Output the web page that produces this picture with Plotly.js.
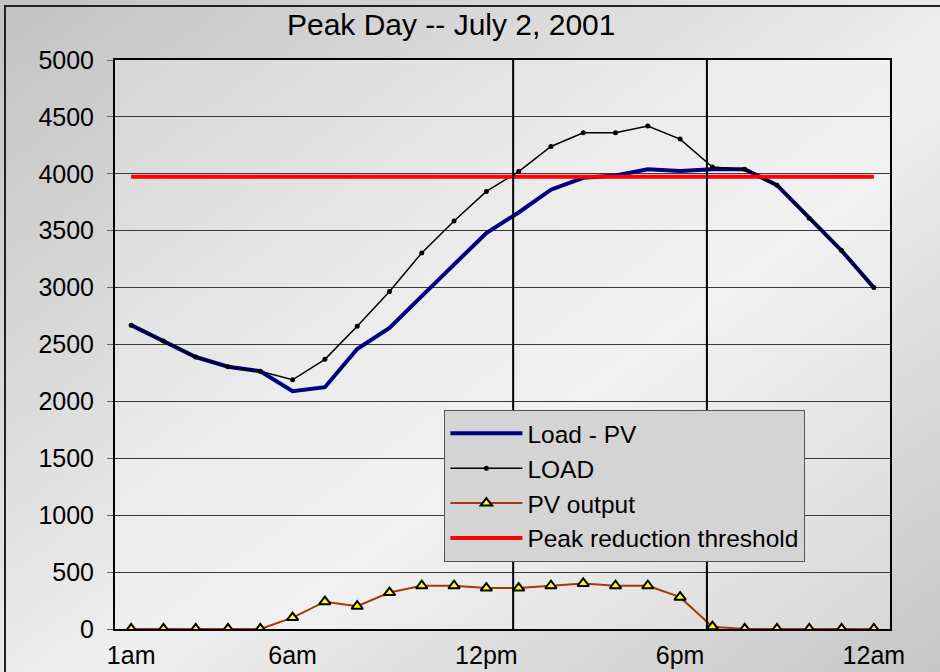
<!DOCTYPE html>
<html>
<head>
<meta charset="utf-8">
<script src="https://cdn.plot.ly/plotly-3.0.1.min.js"></script>
<style>
  html, body { margin: 0; padding: 0; }
  #wrap { position: relative; width: 940px; height: 672px; overflow: hidden;
          background: linear-gradient(to bottom right, #c2c2c2 0%, #e6e6e6 45%, #efefef 55%, #c6c6c6 100%); }
  #frame { position: absolute; left: 4px; top: 5px; width: 960px; height: 700px;
           border-left: 2px solid #222; border-top: 2px solid #222; box-sizing: border-box; }
  #plotbg { position: absolute; left: 115px; top: 60px; width: 775px; height: 569px;
            background: linear-gradient(to bottom right, #d6d6d6 0%, #ececec 40%, #f1f1f1 60%, #d8d8d8 100%); }
  #chart { position: absolute; left: 0; top: 0; width: 940px; height: 672px; }
</style>
</head>
<body>
<div id="wrap">
  <div id="frame"></div>
  <div id="plotbg"></div>
  <div id="chart"></div>
</div>
<script>
// hours of the day (1 = 1am ... 24 = 12am)
const hours = [1,2,3,4,5,6,7,8,9,10,11,12,13,14,15,16,17,18,19,20,21,22,23,24];
const tickHours = [1, 6, 12, 18, 24];
const tickLabels = ['1am', '6am', '12pm', '6pm', '12am'];

const loadMinusPv = [2670, 2530, 2390, 2305, 2265, 2090, 2125, 2460, 2645, 2925, 3205, 3480,
                     3660, 3860, 3965, 3985, 4040, 4025, 4040, 4040, 3900, 3610, 3325, 3000];
const load = [2670, 2530, 2390, 2305, 2265, 2190, 2370, 2660, 2965, 3305, 3585, 3845,
              4020, 4240, 4360, 4360, 4420, 4305, 4060, 4040, 3900, 3610, 3325, 3000];
const pvOutput = [0, 0, 0, 0, 0, 100, 240, 200, 320, 380, 380, 360,
                  360, 380, 400, 380, 380, 280, 20, 0, 0, 0, 0, 0];
const threshold = [3975, 3975, 3975, 3975, 3975, 3975, 3975, 3975, 3975, 3975, 3975, 3975,
                   3975, 3975, 3975, 3975, 3975, 3975, 3975, 3975, 3975, 3975, 3975, 3975];
// vertical marker lines (hour positions)
const markerHours = [12.83, 18.83];

const traces = [
  { name: 'Load - PV', x: hours, y: loadMinusPv, type: 'scatter', mode: 'lines',
    line: { color: '#000080', width: 4 } },
  { name: 'LOAD', x: hours, y: load, type: 'scatter', mode: 'lines+markers',
    line: { color: '#000000', width: 1.5 },
    marker: { symbol: 'circle', size: 5, color: '#000000' } },
  { name: 'PV output', x: hours, y: pvOutput, type: 'scatter', mode: 'lines+markers',
    line: { color: '#a33a0a', width: 2 },
    marker: { symbol: 'triangle-up', size: 10, color: '#ffff00', line: { color: '#000000', width: 2 } } },
  { name: 'Peak reduction threshold', x: hours, y: threshold, type: 'scatter', mode: 'lines',
    line: { color: '#ff0000', width: 4 } }
];

const shapes = markerHours.map(h => ({
  type: 'line', xref: 'x', yref: 'paper', x0: h, x1: h, y0: 0, y1: 1,
  line: { color: '#000000', width: 2 }, layer: 'above'
}));

const layout = {
  width: 940, height: 672,
  margin: { l: 115, r: 50, t: 60, b: 43, pad: 0 },
  paper_bgcolor: 'rgba(0,0,0,0)',
  plot_bgcolor: 'rgba(0,0,0,0)',
  font: { family: 'Liberation Sans, Arial, sans-serif', color: '#000000', size: 25 },
  title: { text: 'Peak Day -- July 2, 2001', font: { size: 30, family: 'Liberation Sans, Arial, sans-serif' },
           x: 0.48, xanchor: 'center', xref: 'container', y: 0.963, yanchor: 'middle', yref: 'container' },
  xaxis: {
    range: [0.5, 24.5], tickvals: tickHours, ticktext: tickLabels,
    showgrid: false, zeroline: false, showline: true, mirror: true,
    linecolor: '#000000', linewidth: 2, ticks: '', ticklabelstandoff: 3,
    tickfont: { size: 25 }
  },
  yaxis: {
    range: [0, 5000], dtick: 500, tickformat: 'd',
    showgrid: true, gridcolor: '#3a3a3a', gridwidth: 1,
    zeroline: false, showline: true, mirror: true,
    linecolor: '#000000', linewidth: 2, ticks: 'outside', ticklen: 6, tickcolor: '#666666',
    ticklabelstandoff: 8, tickfont: { size: 25 }
  },
  showlegend: true,
  legend: {
    x: 0.425, y: 0.385, xanchor: 'left', yanchor: 'top',
    bgcolor: '#d4d4d4', bordercolor: '#555555', borderwidth: 1,
    font: { size: 24.5 }, itemwidth: 72, tracegroupgap: 0
  },
  shapes: shapes
};

Plotly.newPlot('chart', traces, layout, { displayModeBar: false, staticPlot: true });
</script>
</body>
</html>
